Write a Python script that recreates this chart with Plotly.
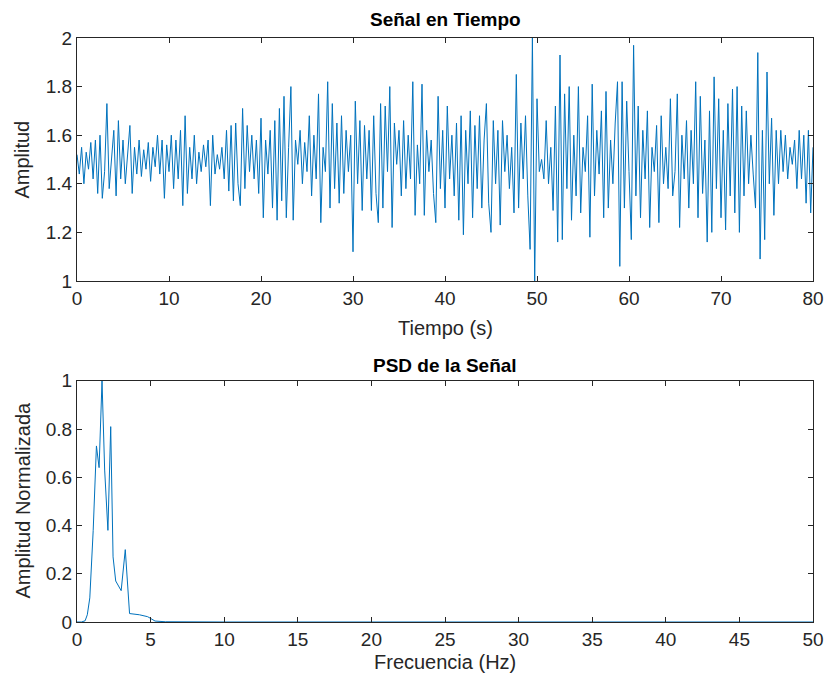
import plotly.graph_objects as go

# Time signal, sampled every 0.25 s, one list per 10 s block
dt = 0.25
seg_00_10 = [1.52, 1.44, 1.55, 1.40, 1.53, 1.46, 1.57, 1.42, 1.58, 1.36,
             1.60, 1.34, 1.45, 1.73, 1.38, 1.50, 1.62, 1.35, 1.66, 1.42,
             1.58, 1.40, 1.52, 1.64, 1.36, 1.55, 1.44, 1.58, 1.43, 1.54,
             1.46, 1.57, 1.41, 1.55, 1.47, 1.60, 1.44, 1.58, 1.34, 1.56]
seg_10_20 = [1.45, 1.60, 1.38, 1.58, 1.42, 1.62, 1.31, 1.68, 1.36, 1.55,
             1.42, 1.60, 1.40, 1.53, 1.45, 1.56, 1.47, 1.58, 1.31, 1.60,
             1.44, 1.52, 1.46, 1.55, 1.42, 1.62, 1.37, 1.64, 1.33, 1.65,
             1.40, 1.31, 1.71, 1.38, 1.64, 1.45, 1.60, 1.42, 1.58, 1.36]
seg_20_30 = [1.67, 1.26, 1.58, 1.44, 1.62, 1.30, 1.66, 1.25, 1.71, 1.33,
             1.76, 1.26, 1.55, 1.80, 1.25, 1.58, 1.48, 1.62, 1.40, 1.57,
             1.45, 1.68, 1.35, 1.60, 1.42, 1.77, 1.24, 1.55, 1.45, 1.82,
             1.30, 1.73, 1.38, 1.65, 1.32, 1.68, 1.36, 1.62, 1.45, 1.60]
seg_30_40 = [1.12, 1.74, 1.40, 1.66, 1.29, 1.64, 1.42, 1.62, 1.29, 1.68,
             1.36, 1.24, 1.73, 1.30, 1.72, 1.45, 1.80, 1.22, 1.65, 1.48,
             1.62, 1.35, 1.66, 1.38, 1.60, 1.42, 1.82, 1.27, 1.56, 1.40,
             1.81, 1.27, 1.62, 1.45, 1.58, 1.36, 1.24, 1.76, 1.38, 1.62]
seg_40_50 = [1.30, 1.72, 1.42, 1.60, 1.35, 1.65, 1.25, 1.68, 1.19, 1.62,
             1.40, 1.70, 1.26, 1.64, 1.38, 1.68, 1.30, 1.58, 1.73, 1.32,
             1.20, 1.66, 1.40, 1.62, 1.23, 1.66, 1.45, 1.60, 1.38, 1.55,
             1.28, 1.85, 1.30, 1.65, 1.42, 1.68, 1.35, 1.13, 2.00, 1.00]
seg_50_60 = [1.75, 1.45, 1.50, 1.42, 1.66, 1.40, 1.55, 1.29, 1.72, 1.16,
             1.93, 1.17, 1.77, 1.38, 1.80, 1.25, 1.60, 1.35, 1.80, 1.28,
             1.55, 1.45, 1.68, 1.18, 1.81, 1.35, 1.62, 1.44, 1.70, 1.26,
             1.78, 1.30, 1.58, 1.40, 1.65, 1.82, 1.06, 1.82, 1.30, 1.74]
seg_60_70 = [1.45, 1.17, 1.97, 1.35, 1.72, 1.26, 1.62, 1.42, 1.70, 1.22,
             1.55, 1.45, 1.64, 1.24, 1.68, 1.40, 1.55, 1.38, 1.75, 1.35,
             1.45, 1.77, 1.22, 1.60, 1.42, 1.66, 1.30, 1.62, 1.40, 1.82,
             1.26, 1.76, 1.36, 1.58, 1.16, 1.70, 1.20, 1.84, 1.38, 1.75]
seg_70_80 = [1.26, 1.62, 1.21, 1.73, 1.35, 1.79, 1.28, 1.80, 1.20, 1.72,
             1.35, 1.70, 1.40, 1.60, 1.44, 1.30, 1.94, 1.09, 1.62, 1.17,
             1.86, 1.40, 1.67, 1.27, 1.62, 1.40, 1.62, 1.45, 1.60, 1.42,
             1.55, 1.48, 1.58, 1.38, 1.62, 1.42, 1.60, 1.32, 1.62, 1.28,
             1.55]

amplitud = (seg_00_10 + seg_10_20 + seg_20_30 + seg_30_40 +
            seg_40_50 + seg_50_60 + seg_60_70 + seg_70_80)
tiempo = [i * dt for i in range(len(amplitud))]

# Normalised power spectral density
frecuencia = [0.0, 0.3, 0.55, 0.7, 0.87, 1.1, 1.32, 1.5, 1.7, 1.88, 2.1,
              2.29, 2.45, 2.63, 3.0, 3.28, 3.57, 4.24, 4.8, 5.3, 6.0,
              8.0, 10.0, 20.0, 30.0, 40.0, 50.0]
psd_norm = [0.0, 0.0, 0.005, 0.03, 0.10, 0.38, 0.73, 0.64, 1.0, 0.63, 0.38,
            0.81, 0.27, 0.17, 0.13, 0.30, 0.035, 0.03, 0.022, 0.004, 0.001,
            0.0, 0.0, 0.0, 0.0, 0.0, 0.0]

x_ticks_t = [0, 10, 20, 30, 40, 50, 60, 70, 80]
y_ticks_t = [1, 1.2, 1.4, 1.6, 1.8, 2]
x_ticks_f = [0, 5, 10, 15, 20, 25, 30, 35, 40, 45, 50]
y_ticks_f = [0, 0.2, 0.4, 0.6, 0.8, 1]

LINE = "#0072BD"
AX = "#262626"
FONT = "Liberation Sans Narrow, Liberation Sans, Arial, sans-serif"

fig = go.Figure()
fig.add_trace(go.Scatter(x=tiempo, y=amplitud, mode="lines",
                         line=dict(color=LINE, width=1), xaxis="x", yaxis="y",
                         showlegend=False))
fig.add_trace(go.Scatter(x=frecuencia, y=psd_norm, mode="lines",
                         line=dict(color=LINE, width=1), xaxis="x2", yaxis="y2",
                         showlegend=False))

axis_style = dict(showline=True, linecolor=AX, linewidth=1, mirror="ticks",
                  ticks="inside", ticklen=5, tickcolor=AX, showgrid=False,
                  zeroline=False, tickfont=dict(family=FONT, size=19, color=AX))

fig.update_layout(
    width=836, height=685,
    margin=dict(l=77, r=16, t=38, b=63),
    paper_bgcolor="white", plot_bgcolor="white",
    font=dict(family=FONT, color=AX),
    xaxis=dict(domain=[0, 1], range=[0, 80], tickvals=x_ticks_t,
               anchor="y", **axis_style),
    yaxis=dict(domain=[0.584, 1], range=[1, 2], tickvals=y_ticks_t,
               anchor="x", **axis_style),
    xaxis2=dict(domain=[0, 1], range=[0, 50], tickvals=x_ticks_f,
                anchor="y2", **axis_style),
    yaxis2=dict(domain=[0, 0.413], range=[0, 1], tickvals=y_ticks_f,
                anchor="x2", **axis_style),
)

def label(text, x, y, size=20, angle=0, bold=False, color=AX):
    fig.add_annotation(text=f"<b>{text}</b>" if bold else text,
                       x=x, y=y, xref="paper", yref="paper",
                       xanchor="center", yanchor="middle", showarrow=False,
                       textangle=angle,
                       font=dict(family=FONT, size=size, color=color))

label("Señal en Tiempo", 0.5, 1.031, size=19, bold=True, color="black")
label("Tiempo (s)", 0.5, 0.503)
label("Amplitud", -0.074, 0.791, angle=-90)
label("PSD de la Señal", 0.5, 0.44, size=19, bold=True, color="black")
label("Frecuencia (Hz)", 0.5, -0.068)
label("Amplitud Normalizada", -0.074, 0.209, angle=-90)

fig.write_html("out.html")
